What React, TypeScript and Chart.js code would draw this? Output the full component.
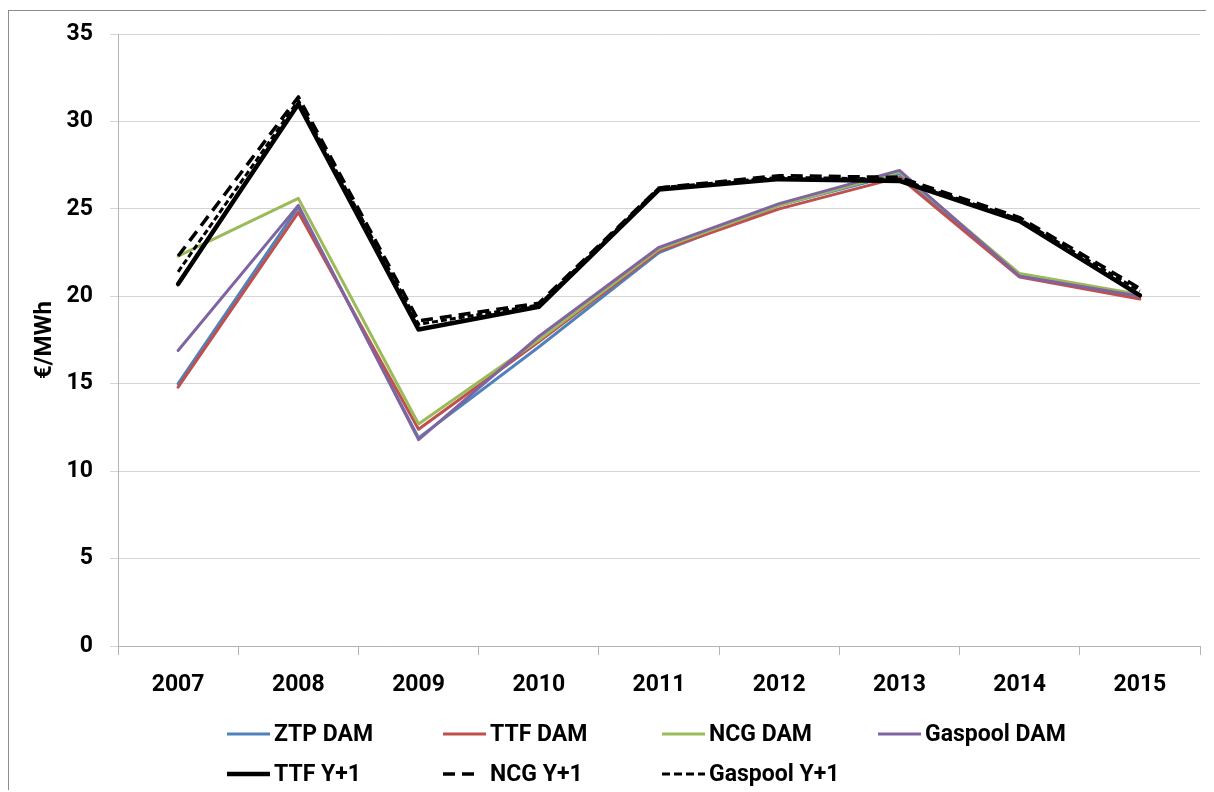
import React, { useEffect, useRef } from "react";
import { Chart, registerables } from "chart.js";

Chart.register(...registerables);

// ---- data ----
const years = ["2007", "2008", "2009", "2010", "2011", "2012", "2013", "2014", "2015"];
const ztpDam = [15.0, 25.1, 11.9, 17.1, 22.5, 25.2, 27.0, 21.2, 20.0];
const ttfDam = [14.8, 24.8, 12.4, 17.4, 22.6, 25.0, 26.8, 21.1, 19.85];
const ncgDam = [22.3, 25.6, 12.7, 17.5, 22.7, 25.2, 27.1, 21.3, 20.1];
const gaspoolDam = [16.9, 25.2, 11.8, 17.7, 22.8, 25.3, 27.2, 21.15, 20.0];
const ttfY1 = [20.7, 31.0, 18.1, 19.4, 26.1, 26.7, 26.6, 24.3, 20.05];
const ncgY1 = [22.3, 31.4, 18.6, 19.6, 26.2, 26.9, 26.8, 24.5, 20.45];
const gaspoolY1 = [21.4, 31.2, 18.4, 19.5, 26.2, 26.8, 26.7, 24.4, 20.3];
const yTicks = [0, 5, 10, 15, 20, 25, 30, 35];
const yTitle = "€/MWh";

const FONT = "Roboto, 'DejaVu Sans', sans-serif";

export default function App() {
  const ref = useRef<HTMLCanvasElement | null>(null);

  useEffect(() => {
    document.documentElement.style.overflow = "hidden";
    const canvas = ref.current;
    if (!canvas) return;

    const legendPlugin = {
      id: "gridLegend",
      afterDraw(chart: any) {
        const c = chart.ctx as CanvasRenderingContext2D;
        const cols = [218, 434, 653, 869];
        const rows = [723, 763];
        chart.data.datasets.forEach((ds: any, i: number) => {
          const col = i < 4 ? i : i - 4;
          const row = i < 4 ? 0 : 1;
          const x = cols[col];
          const y = rows[row];
          const len = ds.legendLen ?? 43;
          c.save();
          c.strokeStyle = ds.borderColor;
          c.lineWidth = ds.borderWidth;
          c.lineCap = "butt";
          c.setLineDash(ds.legendDash ?? ds.borderDash ?? []);
          c.beginPath();
          c.moveTo(x, y);
          c.lineTo(x + len, y);
          c.stroke();
          c.setLineDash([]);
          c.fillStyle = "#000";
          c.font = `bold 23px ${FONT}`;
          c.textBaseline = "middle";
          c.textAlign = "left";
          c.fillText(ds.label, x + 47, y + 1);
          c.restore();
        });
      },
    };

    const mk = (label: string, data: number[], color: string, width: number, i: number, extra: any = {}) => ({
      label,
      data,
      borderColor: color,
      backgroundColor: color,
      borderWidth: width,
      pointRadius: 0,
      pointHoverRadius: 0,
      tension: 0,
      fill: false,
      borderJoinStyle: "round",
      borderCapStyle: "round",
      order: 10 - i,
      ...extra,
    });

    const chart = new Chart(canvas, {
      type: "line",
      data: {
        labels: years,
        datasets: [
          mk("ZTP DAM", ztpDam, "#4F81BD", 3, 0),
          mk("TTF DAM", ttfDam, "#C0504D", 3, 1),
          mk("NCG DAM", ncgDam, "#9BBB59", 3, 2),
          mk("Gaspool DAM", gaspoolDam, "#8064A2", 3, 3),
          mk("TTF Y+1", ttfY1, "#000000", 4.5, 4),
          mk("NCG Y+1", ncgY1, "#000000", 3.5, 5, { borderDash: [12, 7], borderCapStyle: "butt", legendLen: 31 }),
          mk("Gaspool Y+1", gaspoolY1, "#000000", 3, 6, { borderDash: [6, 3], borderCapStyle: "butt", legendDash: [8, 4] }),
        ] as any,
      },
      options: {
        responsive: false,
        animation: false,
        devicePixelRatio: 1,
        layout: { padding: { top: 23, right: 14, bottom: 86, left: 0 } },
        plugins: {
          legend: { display: false },
          tooltip: { enabled: false },
          title: { display: false },
        },
        scales: {
          x: {
            type: "category",
            offset: true,
            grid: {
              display: true,
              drawOnChartArea: false,
              drawTicks: true,
              tickLength: 9,
              offset: true,
              color: "#b3b3b3",
              lineWidth: 1,
            },
            border: { display: true, color: "#b3b3b3", width: 1 },
            ticks: {
              color: "#000",
              padding: 16,
              font: { family: FONT, size: 23, weight: "bold" },
              maxRotation: 0,
            },
            afterFit(scale: any) {
              scale.height = 60;
              scale.paddingLeft = 0;
              scale.paddingRight = 0;
            },
          },
          y: {
            min: 0,
            max: 35,
            afterBuildTicks(scale: any) {
              scale.ticks = yTicks.map((v) => ({ value: v }));
            },
            grid: {
              color: "#d4d4d4",
              lineWidth: 1,
              tickLength: 8,
              drawTicks: true,
            },
            border: { display: true, color: "#b3b3b3", width: 1 },
            ticks: {
              color: "#000",
              padding: 17,
              font: { family: FONT, size: 23, weight: "bold" },
            },
            title: {
              display: true,
              text: yTitle,
              color: "#000",
              font: { family: FONT, size: 24, weight: "bold" },
              padding: { top: 22, bottom: 0 },
            },
            afterFit(scale: any) {
              scale.width = 109;
              scale.paddingTop = 0;
              scale.paddingBottom = 0;
            },
          },
        },
      } as any,
      plugins: [legendPlugin],
    });

    return () => {
      chart.destroy();
    };
  }, []);

  return (
    <div
      style={{
        position: "relative",
        top: 2,
        width: 1205,
        height: 781,
        borderLeft: "1px solid #8c8c8c",
        borderTop: "1px solid #8c8c8c",
        background: "#fff",
      }}
    >
      <canvas ref={ref} width={1205} height={781} style={{ display: "block" }} />
    </div>
  );
}
